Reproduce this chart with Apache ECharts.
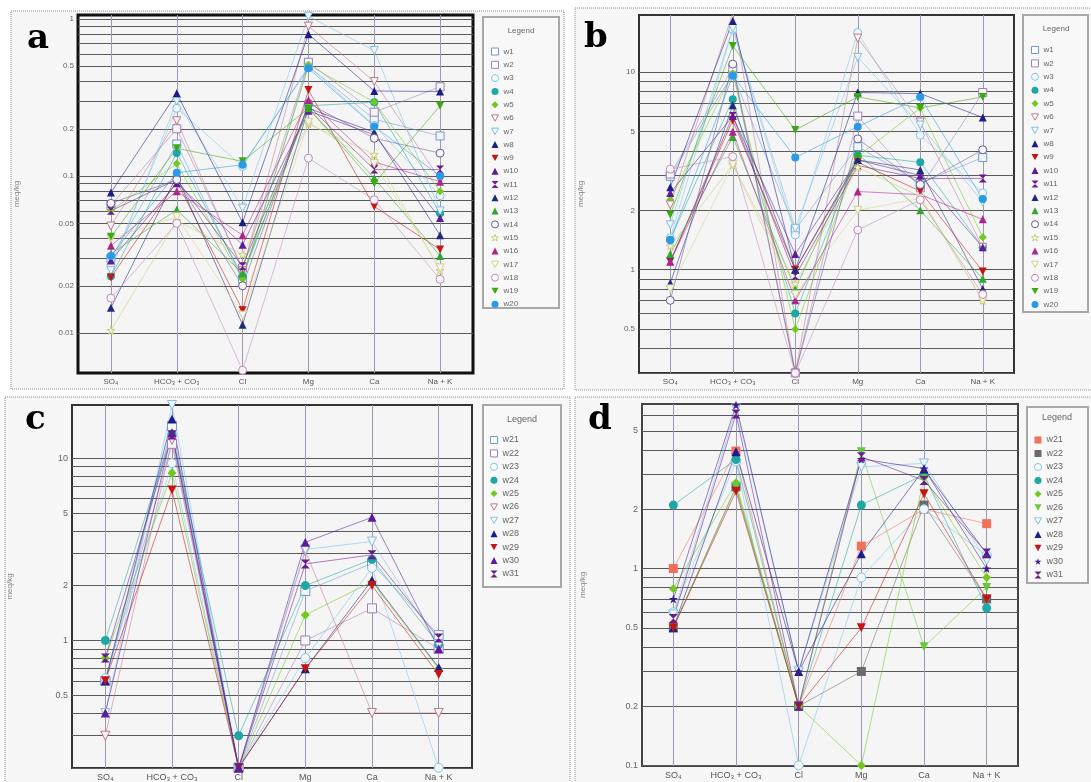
<!DOCTYPE html>
<html><head><meta charset="utf-8">
<script src="https://cdn.jsdelivr.net/npm/echarts@6/dist/echarts.min.js"></script>
<style>html,body{margin:0;padding:0;background:#fff}#c{width:1091px;height:782px}</style>
</head><body><div id="c"></div>
<script>
// ---------- DATA ----------
const categories = ['SO₄', 'HCO₃ + CO₃', 'Cl', 'Mg', 'Ca', 'Na + K'];
const namesAB = ['w1','w2','w3','w4','w5','w6','w7','w8','w9','w10','w11','w12','w13','w14','w15','w16','w17','w18','w19','w20'];
const namesCD = ['w21','w22','w23','w24','w25','w26','w27','w28','w29','w30','w31'];

// panel a (meq/kg): SO4, HCO3+CO3, Cl, Mg, Ca, Na+K
const valuesA = [
  [0.030, 0.16, 0.022, 0.50, 0.23, 0.18],
  [0.065, 0.20, 0.026, 0.53, 0.255, 0.37],
  [0.027, 0.27, 0.115, 0.50, 0.21, 0.075],
  [0.023, 0.14, 0.023, 0.28, 0.295, 0.058],
  [0.060, 0.12, 0.022, 0.51, 0.295, 0.080],
  [0.048, 0.225, 0.025, 0.90, 0.40, 0.095],
  [0.025, 0.30, 0.0625, 1.04, 0.63, 0.060],
  [0.0785, 0.336, 0.0507, 0.80, 0.348, 0.345],
  [0.0226, 0.092, 0.014, 0.353, 0.064, 0.034],
  [0.029, 0.090, 0.0365, 0.26, 0.183, 0.054],
  [0.060, 0.095, 0.0266, 0.28, 0.11, 0.11],
  [0.0145, 0.10, 0.0113, 0.27, 0.19, 0.042],
  [0.032, 0.061, 0.024, 0.27, 0.097, 0.031],
  [0.067, 0.095, 0.020, 0.29, 0.174, 0.14],
  [0.0104, 0.052, 0.0316, 0.215, 0.137, 0.025],
  [0.036, 0.080, 0.042, 0.305, 0.123, 0.092],
  [0.040, 0.055, 0.013, 0.22, 0.12, 0.026],
  [0.0167, 0.050, 0.0058, 0.13, 0.0706, 0.022],
  [0.041, 0.15, 0.124, 0.27, 0.090, 0.28],
  [0.031, 0.105, 0.118, 0.485, 0.207, 0.10]
];
// panel b
const valuesB = [
  [2.97, 9.8, 1.6, 4.2, 2.75, 3.7],
  [3.05, 10.5, 0.30, 6.0, 2.6, 7.9],
  [1.45, 16.5, 1.5, 15.9, 4.8, 2.45],
  [1.42, 7.3, 0.60, 3.8, 3.5, 1.3],
  [2.26, 9.9, 0.50, 3.74, 6.6, 1.46],
  [2.13, 20.0, 0.30, 14.9, 5.6, 1.3],
  [1.69, 16.7, 1.62, 11.9, 5.4, 2.2],
  [2.62, 18.2, 1.0, 7.9, 7.8, 5.9],
  [1.10, 5.7, 1.0, 3.5, 2.5, 0.98],
  [2.45, 6.0, 1.2, 3.6, 3.0, 1.3],
  [1.10, 6.0, 0.93, 3.37, 2.9, 2.9],
  [0.857, 6.8, 1.0, 3.6, 3.2, 0.80],
  [1.20, 4.7, 0.80, 3.87, 2.0, 0.90],
  [0.70, 11.0, 0.30, 4.6, 2.7, 4.05],
  [1.32, 3.4, 0.85, 3.3, 2.35, 0.70],
  [1.10, 5.0, 0.70, 2.49, 2.4, 1.8],
  [0.80, 3.4, 0.75, 2.0, 2.3, 0.70],
  [3.23, 3.74, 0.30, 1.59, 2.26, 0.75],
  [1.90, 13.6, 5.1, 7.5, 6.6, 7.5],
  [1.41, 9.6, 3.7, 5.3, 7.5, 2.28]
];
// panel c
const valuesC = [
  [0.60, 15.0, 0.20, 1.87, 2.65, 1.07],
  [0.60, 12.0, 0.20, 1.0, 1.5, 0.90],
  [0.62, 9.4, 0.20, 0.80, 2.5, 0.20],
  [1.0, 13.6, 0.30, 2.0, 2.79, 0.95],
  [0.80, 8.3, 0.20, 1.38, 2.1, 0.70],
  [0.30, 12.6, 0.20, 3.1, 0.40, 0.40],
  [0.40, 19.6, 0.20, 3.16, 3.49, 0.95],
  [0.60, 16.4, 0.20, 0.70, 2.14, 0.71],
  [0.60, 6.7, 0.20, 0.70, 2.0, 0.65],
  [0.40, 13.8, 0.20, 3.46, 4.74, 0.90],
  [0.80, 13.4, 0.20, 2.63, 2.95, 1.03]
];
// panel d
const valuesD = [
  [1.0, 3.95, 0.20, 1.3, 2.0, 1.69],
  [0.50, 2.6, 0.20, 0.30, 2.1, 0.70],
  [0.60, 3.5, 0.10, 0.90, 2.0, 1.17],
  [2.1, 3.58, 0.20, 2.1, 3.0, 0.63],
  [0.79, 2.73, 0.20, 0.10, 2.9, 0.90],
  [0.50, 2.6, 0.20, 3.92, 0.40, 0.80],
  [0.585, 6.5, 0.30, 3.28, 3.42, 1.1],
  [0.50, 3.92, 0.30, 1.19, 3.2, 1.19],
  [0.50, 2.47, 0.20, 0.50, 2.4, 0.70],
  [0.70, 6.77, 0.30, 3.6, 3.22, 1.0],
  [0.557, 6.1, 0.20, 3.7, 2.8, 1.2]
];
// tick labels
const yLabelsA = [1, 0.5, 0.2, 0.1, 0.05, 0.02, 0.01];
const yLabelsB = [10, 5, 2, 1, 0.5];
const yLabelsC = [10, 5, 2, 1, 0.5];
const yLabelsD = [5, 2, 1, 0.5, 0.2, 0.1];

// ---------- STYLES ----------
const SYM = {
  sq: 'rect', ci: 'circle', di: 'diamond', tr: 'triangle',
  dt: 'path://M0,0L10,0L5,9Z',
  hg: 'path://M0,0L10,0L5,5L10,10L0,10L5,5Z',
  st: 'path://M5,0L6.2,3.6L10,3.6L6.9,5.9L8.1,9.5L5,7.3L1.9,9.5L3.1,5.9L0,3.6L3.8,3.6Z'
};
// [symbol, color, open]
const stylesAB = [
  ['sq','#6a9ad8',1],['sq','#a080b8',1],['ci','#7cc4ee',1],['ci','#1fa6a6',0],['di','#72c81e',0],
  ['dt','#c07a90',1],['dt','#7cc0ea',1],['tr','#1c1c8c',0],['dt','#c41414',0],['tr','#5c1c9c',0],
  ['hg','#6c1a8c',0],['tr','#202a7a',0],['tr','#30a830',0],['ci','#6a5a9a',1],['st','#c8cc70',1],
  ['tr','#b0248c',0],['dt','#d4d08a',1],['ci','#c08ac0',1],['dt','#3aaa10',0],['ci','#2a9ae6',0]
];
const stylesC = [
  ['sq','#6a9ad8',1],['sq','#a080b8',1],['ci','#7cc4ee',1],['ci','#1fa6a6',0],['di','#72c81e',0],
  ['dt','#c07a90',1],['dt','#7cc0ea',1],['tr','#1c1c8c',0],['dt','#c41414',0],['tr','#5c1c9c',0],['hg','#6c1a8c',0]
];
const stylesD = [
  ['sq','#f0705a',0],['sq','#6a6a6a',0],['ci','#7cc4ee',1],['ci','#1fa6a6',0],['di','#72c81e',0],
  ['dt','#66c83a',0],['dt','#7cc0ea',1],['tr','#1c1c8c',0],['dt','#c41414',0],['st','#3c1c8c',0],['hg','#6c1a8c',0]
];

const panels = [
  {names: namesAB, values: valuesA, styles: stylesAB, labels: yLabelsA, min: 0.00557, max: 1.06,
   grid: {left: 78, top: 15, width: 395, height: 358, borderColor: '#111', borderWidth: 3}, size: 8, fs: 8, nameGap: 57,
   legend: {left: 491, top: 47, gap: 4.3, fs: 8}, lbox: [483, 17, 76, 291], ltitle: [521, 31],
   frame: [11, 11, 553, 378], letter: ['a', 27, 56]},
  {names: namesAB, values: valuesB, styles: stylesAB, labels: yLabelsB, min: 0.30, max: 19.5,
   grid: {left: 639, top: 15, width: 375, height: 358, borderColor: '#333', borderWidth: 2}, size: 8, fs: 8, nameGap: 54,
   legend: {left: 1031, top: 45.5, gap: 4.4, fs: 8}, lbox: [1023, 15, 65, 297], ltitle: [1056, 29],
   frame: [575, 8, 520, 382], letter: ['b', 584, 55]},
  {names: namesCD, values: valuesC, styles: stylesC, labels: yLabelsC, min: 0.1995, max: 19.6,
   grid: {left: 72, top: 405, width: 400, height: 363, borderColor: '#333', borderWidth: 2}, size: 9, fs: 9, nameGap: 58,
   legend: {left: 490, top: 435, gap: 3.4, fs: 9}, lbox: [483, 405, 78, 182], ltitle: [522, 420],
   frame: [5, 397, 565, 390], letter: ['c', 25, 437]},
  {names: namesCD, values: valuesD, styles: stylesD, labels: yLabelsD, min: 0.0993, max: 6.85,
   grid: {left: 642, top: 404, width: 376, height: 362, borderColor: '#444', borderWidth: 2}, size: 9, fs: 9, nameGap: 55,
   legend: {left: 1034, top: 435, gap: 3.5, fs: 9}, lbox: [1027, 407, 61, 176], ltitle: [1057, 418],
   frame: [575, 397, 520, 390], letter: ['d', 588, 437]}
];

const BG = '#f5f5f5';
function symStyle(st) {
  const [s, c, open] = st;
  return open ? {color: BG, borderColor: c, borderWidth: 1} : {color: c, borderColor: c, borderWidth: 0};
}

const option = {
  animation: false,
  backgroundColor: '#fff',
  textStyle: {fontFamily: 'Liberation Sans, Arial, sans-serif'},
  grid: [], xAxis: [], yAxis: [], series: [], legend: [], graphic: []
};

panels.forEach((p, k) => {
  option.grid.push(Object.assign({show: true, backgroundColor: BG}, p.grid));
  option.xAxis.push({type: 'category', gridIndex: k, data: categories, boundaryGap: true,
    axisLine: {show: false}, axisTick: {show: false}, splitLine: {show: false},
    axisLabel: {interval: 0, fontSize: p.fs, color: '#555', margin: 5}});
  option.yAxis.push({type: 'log', logBase: 10, gridIndex: k, min: p.min, max: p.max,
    axisLine: {show: false}, axisTick: {show: false}, axisLabel: {show: false}, splitLine: {show: false},
    name: 'meq/kg', nameLocation: 'middle', nameGap: p.nameGap, nameTextStyle: {fontSize: 8, color: '#888'}});

  // decoration: grid lines and tick labels
  const ml = [];
  const lo = Math.floor(Math.log10(p.min)) - 1, hi = Math.ceil(Math.log10(p.max));
  for (let e = lo; e <= hi; e++) {
    for (let m = 1; m <= 9; m++) {
      const v = +(m * Math.pow(10, e)).toPrecision(6);
      if (v < p.min * 0.995 || v > p.max) continue;
      const isLab = p.labels.some(l => Math.abs(l - v) / v < 1e-6);
      ml.push({yAxis: v, lineStyle: {color: '#5a5a5a', width: 1, type: 'solid'},
        label: {show: isLab, position: 'start', formatter: String(v), color: '#666', fontSize: p.fs, distance: 4}});
    }
  }
  categories.forEach(c => ml.push({xAxis: c, lineStyle: {color: '#9c9aae', width: 1, type: 'solid'}, label: {show: false}}));
  option.series.push({type: 'line', xAxisIndex: k, yAxisIndex: k, data: [], silent: true, z: 1,
    markLine: {silent: true, symbol: ['none', 'none'], animation: false, z: 1, data: ml}});

  p.names.forEach((n, i) => {
    const st = p.styles[i];
    option.series.push({
      name: n, type: 'line', xAxisIndex: k, yAxisIndex: k, data: p.values[i],
      symbol: SYM[st[0]], symbolSize: p.size, itemStyle: symStyle(st),
      lineStyle: {color: st[1], width: 1, opacity: 0.55}, z: 3, emphasis: {disabled: true}
    });
  });

  option.legend.push({orient: 'vertical', left: p.legend.left, top: p.legend.top, itemWidth: 7, itemHeight: 7,
    itemGap: p.legend.gap, selectedMode: false, padding: 0, z: 6,
    textStyle: {fontSize: p.legend.fs, color: '#666', lineHeight: p.legend.fs + 1},
    data: p.names.map((n, i) => {
      const st = p.styles[i];
      return {name: n, icon: SYM[st[0]], itemStyle: st[2] ? {color: '#fff', borderColor: st[1], borderWidth: 1} : {color: st[1], borderColor: st[1], borderWidth: 0}};
    })});

  option.graphic.push(
    {type: 'rect', z: -20, silent: true, shape: {x: p.frame[0], y: p.frame[1], width: p.frame[2], height: p.frame[3]},
     style: {fill: '#f7f7f7', stroke: '#8a8a8a', lineWidth: 1, lineDash: [1, 1]}},
    {type: 'rect', z: 2, silent: true, shape: {x: p.lbox[0], y: p.lbox[1], width: p.lbox[2], height: p.lbox[3]},
     style: {fill: '#f8f8f8', stroke: '#a8a8a8', lineWidth: 2}},
    {type: 'text', z: 7, silent: true, x: p.ltitle[0], y: p.ltitle[1],
     style: {text: 'Legend', fill: '#666', fontSize: p.legend.fs, align: 'center', verticalAlign: 'middle', fontFamily: 'Liberation Sans, Arial, sans-serif'}},
    {type: 'text', z: 100, silent: true, x: p.letter[1], y: p.letter[2],
     style: {text: p.letter[0], fill: '#000', font: 'bold 34px "DejaVu Serif", serif', align: 'left', verticalAlign: 'bottom'}}
  );
});

const chart = echarts.init(document.getElementById('c'), null, {renderer: 'canvas'});
chart.setOption(option);
</script>
</body></html>
